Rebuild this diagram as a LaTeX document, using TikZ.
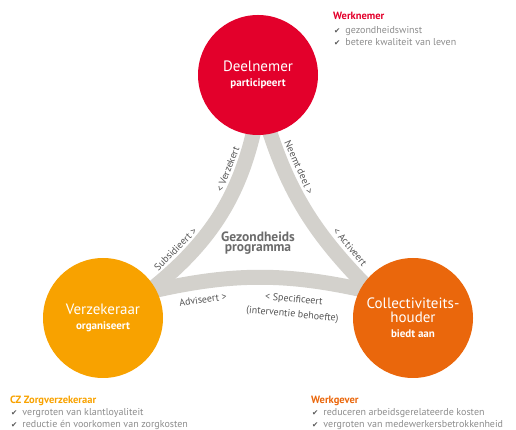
\documentclass[tikz,border=0pt]{standalone}
\usepackage{fontspec}
\setmainfont{PT Sans}
\newfontfamily\vinkfont{DejaVu Sans}
\usetikzlibrary{positioning}

\definecolor{werkrood}{HTML}{E3002B}
\definecolor{zorggeel}{HTML}{F8A200}
\definecolor{gevoranje}{HTML}{EA670C}
\definecolor{bandgrijs}{HTML}{D3D1CC}
\definecolor{tekstgrijs}{HTML}{555555}
\definecolor{lijstgrijs}{HTML}{8C8C8C}

\newcommand{\vink}{{\vinkfont\fontsize{7.5}{8}\selectfont\color{tekstgrijs}✔}\hspace{5pt}}

\begin{document}
\begin{tikzpicture}[
	x=1pt,y=1pt,
	rol/.style={circle,minimum size=120pt,inner sep=0,text=white,align=center,font=\fontsize{15}{16}\selectfont},
	band/.style={draw=bandgrijs,line width=15pt,line cap=butt},
	werk/.style={inner sep=0,sloped,text=tekstgrijs,font=\fontsize{10}{11}\selectfont},
	kop/.style={anchor=base west,inner sep=0,font=\fontsize{10.5}{12}\selectfont\bfseries},
	punt/.style={anchor=base west,inner sep=0,text=lijstgrijs,font=\fontsize{10}{12}\selectfont}
]
	\useasboundingbox (0,0) rectangle (516,430);

	% uiteinden van de banden
	\coordinate (A1) at (259,325);
	\coordinate (B1) at (148,138);
	\coordinate (A2) at (263,320);
	\coordinate (C2) at (372,138);
	\coordinate (B3) at (148,138);
	\coordinate (C3) at (372,138);

	\draw[band] (A1) to[bend left=21] (B1);
	\draw[band] (A2) to[out=-74,in=135] (C2);
	\draw[band] (B3) to[bend left=13] (C3);

	% teksten langs de banden
	\path (A1) to[bend left=21]
		node[werk,pos=0.31,above=10pt](verzekert){< Verzekert}
		node[werk,pos=0.79,above=10pt](subs){Subsidieert >}
		(B1);
	\path (A2) to[out=-74,in=135]
		node[werk,pos=0.3,above=11pt](neemt){Neemt deel >}
		node[werk,pos=0.79,above=11pt](activ){< Activeert}
		(C2);
	\path (B3) to[bend left=13]
		node[werk,pos=0.22,below=14pt](advis){Adviseert >}
		node[werk,pos=0.67,below=16pt](spec){< Specificeert}
		node[werk,pos=0.67,below=31pt](behoefte){(interventie behoefte)}
		(C3);

	\path
		(258,355) node[rol,fill=werkrood](deel){Deelnemer\\[-1pt]{\fontsize{11}{12}\selectfont\bfseries participeert}}
		(103,112) node[rol,fill=zorggeel](verz){Verzekeraar\\[-1pt]{\fontsize{11}{12}\selectfont\bfseries organiseert}}
		(413,112) node[rol,fill=gevoranje](coll){Collectiviteits-\\[-2pt]houder\\[-1pt]{\fontsize{11}{12}\selectfont\bfseries biedt aan}}
	;

	\path
		(258,193) node[inner sep=0,text=black!58,font=\fontsize{13.5}{14}\selectfont\bfseries](gez){Gezondheids}
		(258,181) node[inner sep=0,text=black!58,font=\fontsize{13.5}{14}\selectfont\bfseries](prog){programma}
	;

	% lijsten
	\path
		(333,410) node[kop,text=werkrood](wn){Werknemer}
		(334,396) node[punt](wn1){\vink gezondheidswinst}
		(334,384) node[punt](wn2){\vink betere kwaliteit van leven}
		(10,26) node[kop,text=zorggeel](cz){CZ Zorgverzekeraar}
		(11,14) node[punt](cz1){\vink vergroten van klantloyaliteit}
		(11,2) node[punt](cz2){\vink reductie én voorkomen van zorgkosten}
		(311,26) node[kop,text=gevoranje](wg){Werkgever}
		(312,14) node[punt](wg1){\vink reduceren arbeidsgerelateerde kosten}
		(312,2) node[punt](wg2){\vink vergroten van medewerkersbetrokkenheid}
	;
\end{tikzpicture}
\end{document}
